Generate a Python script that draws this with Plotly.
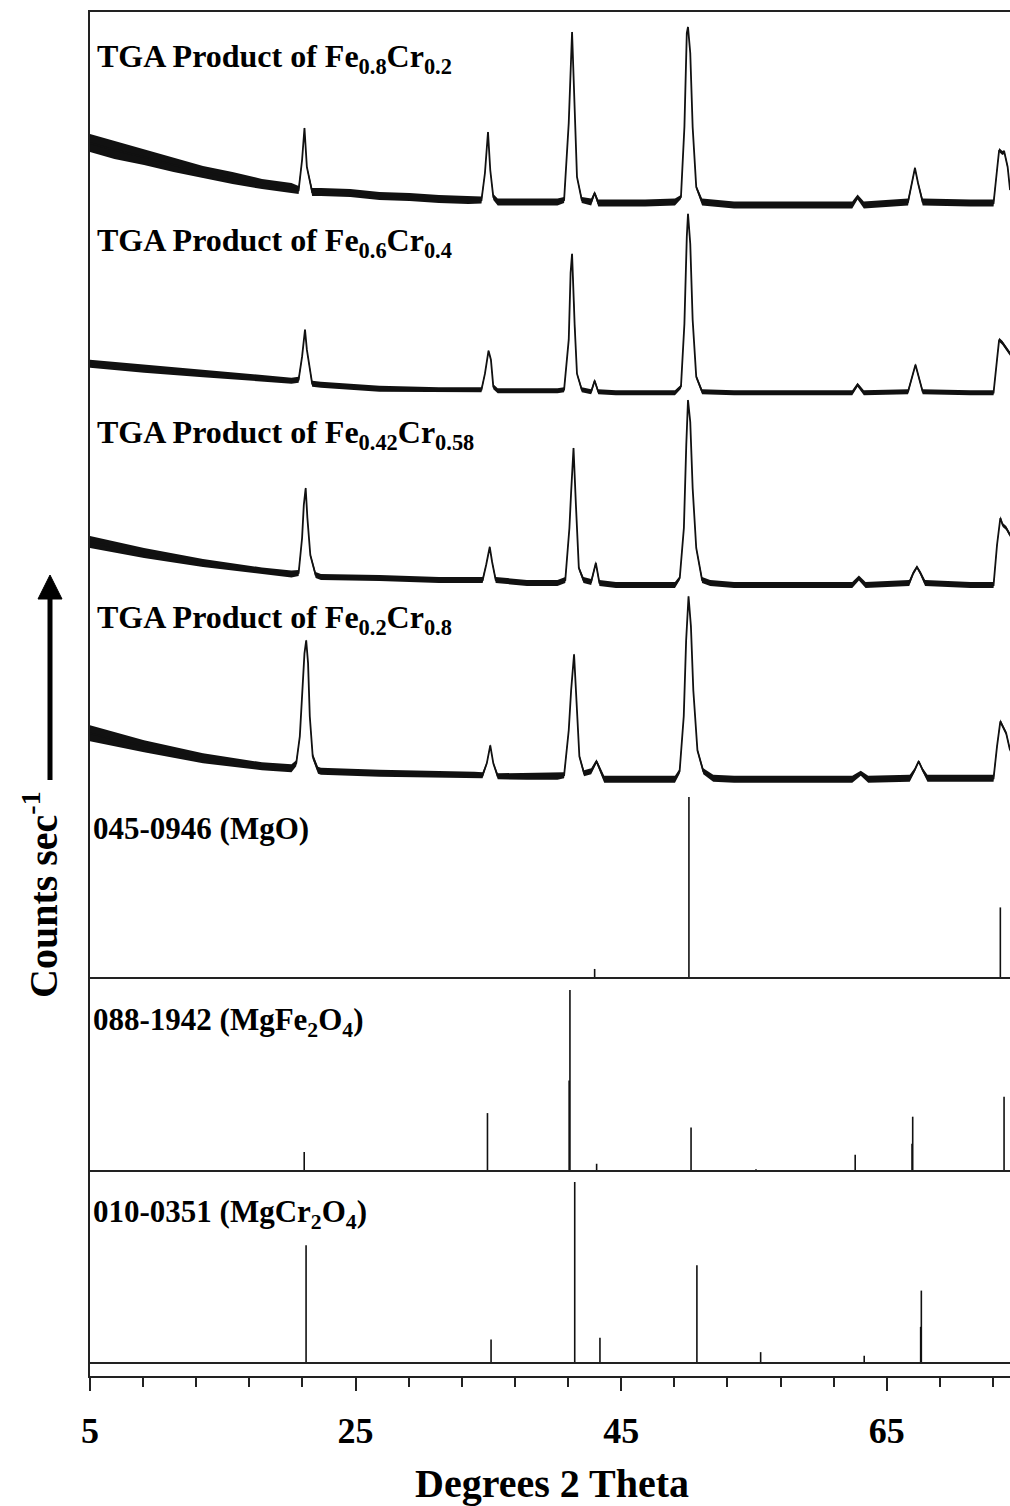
import plotly.graph_objects as go

# ---------------- data ----------------
# 2-theta (deg) and intensity above local background (arb. counts) for the four TGA products
tga1_x = [5.0, 6.84, 9.07, 11.29, 13.51, 15.73, 17.95, 20.17, 20.71, 20.97, 21.15, 21.33, 21.73, 22.39, 24.6, 26.8,
          29.06, 31.28, 33.5, 34.48, 34.74, 34.97, 35.14, 35.37, 35.7, 37.9, 40.2, 40.7, 41.05, 41.3, 41.5, 41.67,
          42.03, 42.74, 43.0, 43.27, 44.6, 46.8, 49.05, 49.5, 49.76, 49.94, 50.03, 50.2, 50.38, 50.65, 51.09, 53.5,
          57.9, 62.4, 62.8, 63.27, 66.6, 66.9, 67.12, 67.35, 67.7, 71.3, 73.04, 73.3, 73.46, 73.7, 73.85, 74.1, 74.28]
tga1_y = [62, 55, 48, 40, 33, 27, 21, 17, 15, 45, 77, 38, 13, 13, 12, 9, 8, 6, 5, 5, 32, 73, 35, 8, 3, 3, 3, 5, 82,
          173, 102, 28, 5, 3, 12, 2, 2, 2, 3, 8, 78, 172, 178, 152, 78, 18, 3, 0, 0, 0, 8, 0, 3, 22, 37, 22, 3, 2, 2,
          35, 55, 52, 53, 38, 15]
tga1_noise = [9, 9, 8, 7, 6, 6, 5, 5, 4, 1.5, 1, 1.5, 4, 4, 4, 4, 4, 4, 4, 3.5, 1.5, 1, 1.5, 3, 3.5, 3.5, 3.5, 3, 1.5,
              1, 1.5, 1.5, 3, 3.5, 2, 3.5, 3.5, 3.5, 3.5, 2, 1.2, 1, 1, 1, 1.2, 2, 3.5, 3.5, 3.5, 3.5, 2.5, 3.5, 3.5,
              2, 1.5, 2, 3.5, 3.5, 3.5, 2, 2, 2, 2, 2, 2]

tga2_x = [5.0, 9.07, 13.51, 17.95, 20.17, 20.71, 20.97, 21.19, 21.33, 21.73, 22.39, 26.8, 31.28, 34.48, 34.74, 35.01,
          35.19, 35.37, 35.7, 40.2, 40.7, 41.05, 41.19, 41.3, 41.5, 41.67, 42.03, 42.74, 43.0, 43.27, 44.6, 49.05,
          49.5, 49.76, 49.94, 50.03, 50.2, 50.38, 50.65, 51.09, 53.5, 62.4, 62.8, 63.27, 66.6, 66.9, 67.16, 67.4,
          67.7, 71.3, 73.04, 73.3, 73.46, 73.7, 73.9, 74.1, 74.28]
tga2_y = [29, 24, 19, 14, 12, 13, 36, 63, 43, 9, 8, 4, 3, 3, 19, 42, 33, 6, 2, 2, 3, 53, 120, 139, 66, 19, 3, 1, 12,
          1, 0, 0, 6, 69, 156, 179, 149, 73, 16, 1, 0, 0, 8, 0, 1, 16, 28, 16, 1, 0, 0, 33, 53, 50, 46, 43, 39]
tga2_noise = [4, 4, 3.5, 3, 3, 3, 1.5, 1, 1.5, 3, 3, 3, 2.5, 2.5, 1.5, 1, 1.5, 2.5, 2.5, 2.5, 2.5, 1.5, 1, 1, 1.5,
              1.5, 2.5, 2.5, 2, 2.5, 2.5, 2.5, 2, 1.2, 1, 1, 1, 1.2, 2, 2.5, 2.5, 2.5, 2, 2.5, 2.5, 2, 1.5, 2, 2.5,
              2.5, 2.5, 2, 2, 2, 2, 2, 2]

tga3_x = [5.0, 9.07, 13.51, 17.95, 20.17, 20.71, 20.97, 21.1, 21.24, 21.37, 21.59, 21.99, 22.39, 26.8, 31.28, 34.57,
          34.83, 35.1, 35.28, 35.55, 37.9, 40.2, 40.79, 41.1, 41.23, 41.41, 41.59, 41.81, 42.16, 42.74, 43.09, 43.36,
          44.6, 49.05, 49.41, 49.72, 49.9, 50.03, 50.2, 50.38, 50.65, 51.09, 51.7, 53.5, 62.4, 62.9, 63.4, 66.69,
          67.0, 67.27, 67.53, 67.88, 71.3, 73.04, 73.3, 73.55, 73.73, 73.99, 74.28]
tga3_y = [43, 32, 22, 14, 11, 12, 47, 80, 97, 67, 30, 10, 8, 7, 5, 5, 20, 38, 23, 5, 2, 2, 5, 57, 93, 137, 80, 17, 5,
          3, 22, 2, 0, 0, 7, 57, 140, 185, 163, 97, 37, 5, 2, 0, 0, 7, 0, 2, 12, 18, 12, 2, 0, 0, 40, 67, 60, 57, 50]
tga3_noise = [6, 5, 4, 3.5, 3.5, 3, 1.5, 1, 1, 1.5, 2, 3, 3, 3, 3, 3, 1.5, 1.2, 1.5, 3, 3, 3, 3, 1.5, 1, 1, 1.2, 2,
              3, 3, 2, 3, 3, 3, 2, 1.2, 1, 1, 1, 1.2, 2, 3, 3, 3, 3, 2.5, 3, 3, 2, 1.5, 2, 3, 3, 3, 2, 2, 2, 2, 2]

tga4_x = [5.0, 9.07, 13.51, 17.95, 20.17, 20.53, 20.8, 21.02, 21.15, 21.28, 21.42, 21.55, 21.77, 22.17, 22.39, 26.8,
          31.28, 33.95, 34.56, 34.88, 35.14, 35.37, 35.7, 37.9, 40.2, 40.7, 41.05, 41.23, 41.45, 41.63, 41.85, 42.2,
          42.74, 43.14, 43.72, 44.6, 49.05, 49.4, 49.71, 49.89, 50.07, 50.25, 50.43, 50.74, 51.18, 51.93, 53.5, 62.4,
          63.04, 63.6, 66.73, 67.09, 67.4, 67.71, 68.06, 71.3, 73.04, 73.3, 73.55, 73.73, 73.99, 74.28]
tga4_y = [46, 33, 21, 13, 11, 16, 43, 96, 126, 139, 116, 63, 23, 9, 8, 6, 5, 4, 4, 16, 34, 16, 3, 3, 3, 4, 49, 89,
          125, 79, 23, 6, 8, 18, 0, 0, 0, 8, 63, 139, 183, 153, 89, 29, 8, 1, 0, 0, 6, 0, 1, 9, 18, 9, 1, 1, 1, 33,
          58, 53, 46, 29]
tga4_noise = [8, 6, 5, 4, 4, 3, 1.5, 1.2, 1, 1, 1.2, 1.5, 3, 3.5, 3.5, 3.5, 3.5, 3.5, 3, 1.5, 1.2, 1.5, 3, 3.5, 3.5,
              3, 1.5, 1.2, 1, 1.2, 2, 3, 3, 2, 3.5, 3.5, 3.5, 2.5, 1.2, 1, 1, 1, 1.2, 2, 3, 3.5, 3.5, 3.5, 2.5, 3.5,
              3.5, 2, 1.5, 2, 3.5, 3.5, 3.5, 2, 2, 2, 2, 2]

# reference patterns: stick positions (2-theta) and relative intensity (%)
mgo_x = [43.0, 50.1, 73.55]
mgo_i = [5, 100, 39]
mgfe_x = [21.13, 34.93, 41.08, 41.14, 43.15, 50.26, 55.15, 62.62, 66.9, 66.95, 73.83]
mgfe_i = [10.5, 32, 50, 100, 4, 24, 1, 9, 15, 30, 41]
mgcr_x = [21.27, 35.2, 41.5, 43.4, 50.7, 55.5, 63.3, 67.55, 67.6]
mgcr_i = [65, 13, 100, 14, 54, 6, 4, 20, 40]

tga_labels = ["TGA Product of Fe<sub>0.8</sub>Cr<sub>0.2</sub>",
              "TGA Product of Fe<sub>0.6</sub>Cr<sub>0.4</sub>",
              "TGA Product of Fe<sub>0.42</sub>Cr<sub>0.58</sub>",
              "TGA Product of Fe<sub>0.2</sub>Cr<sub>0.8</sub>"]
ref_labels = ["045-0946 (MgO)",
              "088-1942 (MgFe<sub>2</sub>O<sub>4</sub>)",
              "010-0351 (MgCr<sub>2</sub>O<sub>4</sub>)"]
x_ticks = [5, 25, 45, 65]

# ---------------- layout constants ----------------
W, H = 1010, 1506
ML, MR, MT, MB = 90, 0, 12, 130
PH = H - MT - MB            # plot height in px; y data unit == 1 px
XMAX = 5 + (W - ML - MR) / 13.28

def ypx(px):                # y value for a given vertical pixel
    return (H - MB) - px

tga_offsets = [ypx(205), ypx(392.7), ypx(585), ypx(779.3)]
ref_offsets = [ypx(978), ypx(1171), ypx(1363)]
stick_scale = 1.81
label_px = [58, 242, 434, 619]
ref_label_px = [828, 1022, 1214]

FONT = "Liberation Serif"
INK = "#111111"

fig = go.Figure()

tga_sets = [(tga1_x, tga1_y, tga1_noise), (tga2_x, tga2_y, tga2_noise),
            (tga3_x, tga3_y, tga3_noise), (tga4_x, tga4_y, tga4_noise)]
for (xs, ys, ns), off in zip(tga_sets, tga_offsets):
    assert len(xs) == len(ys) == len(ns)
    lower = [off + y - n for y, n in zip(ys, ns)]
    upper = [off + y + n for y, n in zip(ys, ns)]
    fig.add_trace(go.Scatter(x=xs, y=lower, mode="lines", line=dict(width=0, color=INK),
                             showlegend=False, hoverinfo="skip"))
    fig.add_trace(go.Scatter(x=xs, y=upper, mode="lines", line=dict(width=0, color=INK),
                             fill="tonexty", fillcolor=INK, showlegend=False, hoverinfo="skip"))
    fig.add_trace(go.Scatter(x=xs, y=[off + y for y in ys], mode="lines",
                             line=dict(width=1.8, color=INK), showlegend=False))

for (xs, ints), off in zip([(mgo_x, mgo_i), (mgfe_x, mgfe_i), (mgcr_x, mgcr_i)], ref_offsets):
    sx, sy = [], []
    for x, i in zip(xs, ints):
        sx += [x, x, None]
        sy += [off, off + i * stick_scale, None]
    fig.add_trace(go.Scatter(x=sx, y=sy, mode="lines", line=dict(width=1.6, color=INK),
                             showlegend=False))

shapes = []
for off in ref_offsets:
    shapes.append(dict(type="line", xref="paper", x0=0, x1=1, yref="y", y0=off, y1=off,
                       line=dict(color="#222222", width=2)))

# arrow next to the y title
def px2paper_x(px):
    return (px - ML) / (W - ML - MR)

def px2paper_y(py):
    return ((H - MB) - py) / PH

ax = px2paper_x(50)
shapes.append(dict(type="line", xref="paper", yref="paper", x0=ax, x1=ax,
                   y0=px2paper_y(780), y1=px2paper_y(596), line=dict(color="black", width=5)))
shapes.append(dict(type="path", xref="paper", yref="paper",
                   path=f"M {px2paper_x(38)} {px2paper_y(599)} L {px2paper_x(62)} {px2paper_y(599)} "
                        f"L {ax} {px2paper_y(575)} Z",
                   fillcolor="black", line=dict(color="black", width=1)))

annotations = []
for txt, py in zip(tga_labels, label_px):
    annotations.append(dict(text=txt, xref="paper", x=px2paper_x(95), xanchor="left",
                            yref="y", y=ypx(py), yanchor="middle", showarrow=False,
                            font=dict(family=FONT, size=32, color="black", weight="bold")))
for txt, py in zip(ref_labels, ref_label_px):
    annotations.append(dict(text=txt, xref="paper", x=px2paper_x(91), xanchor="left",
                            yref="y", y=ypx(py), yanchor="middle", showarrow=False,
                            font=dict(family=FONT, size=31, color="black", weight="bold")))
annotations.append(dict(text="Counts sec<sup>-1</sup>", textangle=-90, xref="paper", x=px2paper_x(40),
                        xanchor="center", yref="paper", y=px2paper_y(895), yanchor="middle",
                        showarrow=False, font=dict(family=FONT, size=40, color="black", weight="bold")))
annotations.append(dict(text="Degrees 2 Theta", xref="paper", x=px2paper_x(552), xanchor="center",
                        yref="paper", y=px2paper_y(1483), yanchor="middle", showarrow=False,
                        font=dict(family=FONT, size=40, color="black", weight="bold")))

fig.update_layout(
    width=W, height=H,
    margin=dict(l=ML, r=MR, t=MT, b=MB),
    paper_bgcolor="white", plot_bgcolor="white",
    shapes=shapes, annotations=annotations,
    showlegend=False,
    xaxis=dict(range=[5, XMAX], showgrid=False, zeroline=False,
               showline=True, linecolor="#222222", linewidth=2, mirror=True,
               ticks="outside", ticklen=13, tickwidth=2, tickcolor="#222222",
               tickmode="array", tickvals=x_ticks, ticktext=[str(t) for t in x_ticks],
               tickfont=dict(family=FONT, size=36, color="black", weight="bold"),
               ticklabelstandoff=9,
               minor=dict(tick0=5, dtick=4, ticks="outside", ticklen=9, tickwidth=2,
                          tickcolor="#222222", showgrid=False)),
    yaxis=dict(range=[0, PH], showgrid=False, zeroline=False, showticklabels=False,
               ticks="", showline=True, linecolor="#222222", linewidth=2, mirror=False),
)

fig.write_html("out.html")
